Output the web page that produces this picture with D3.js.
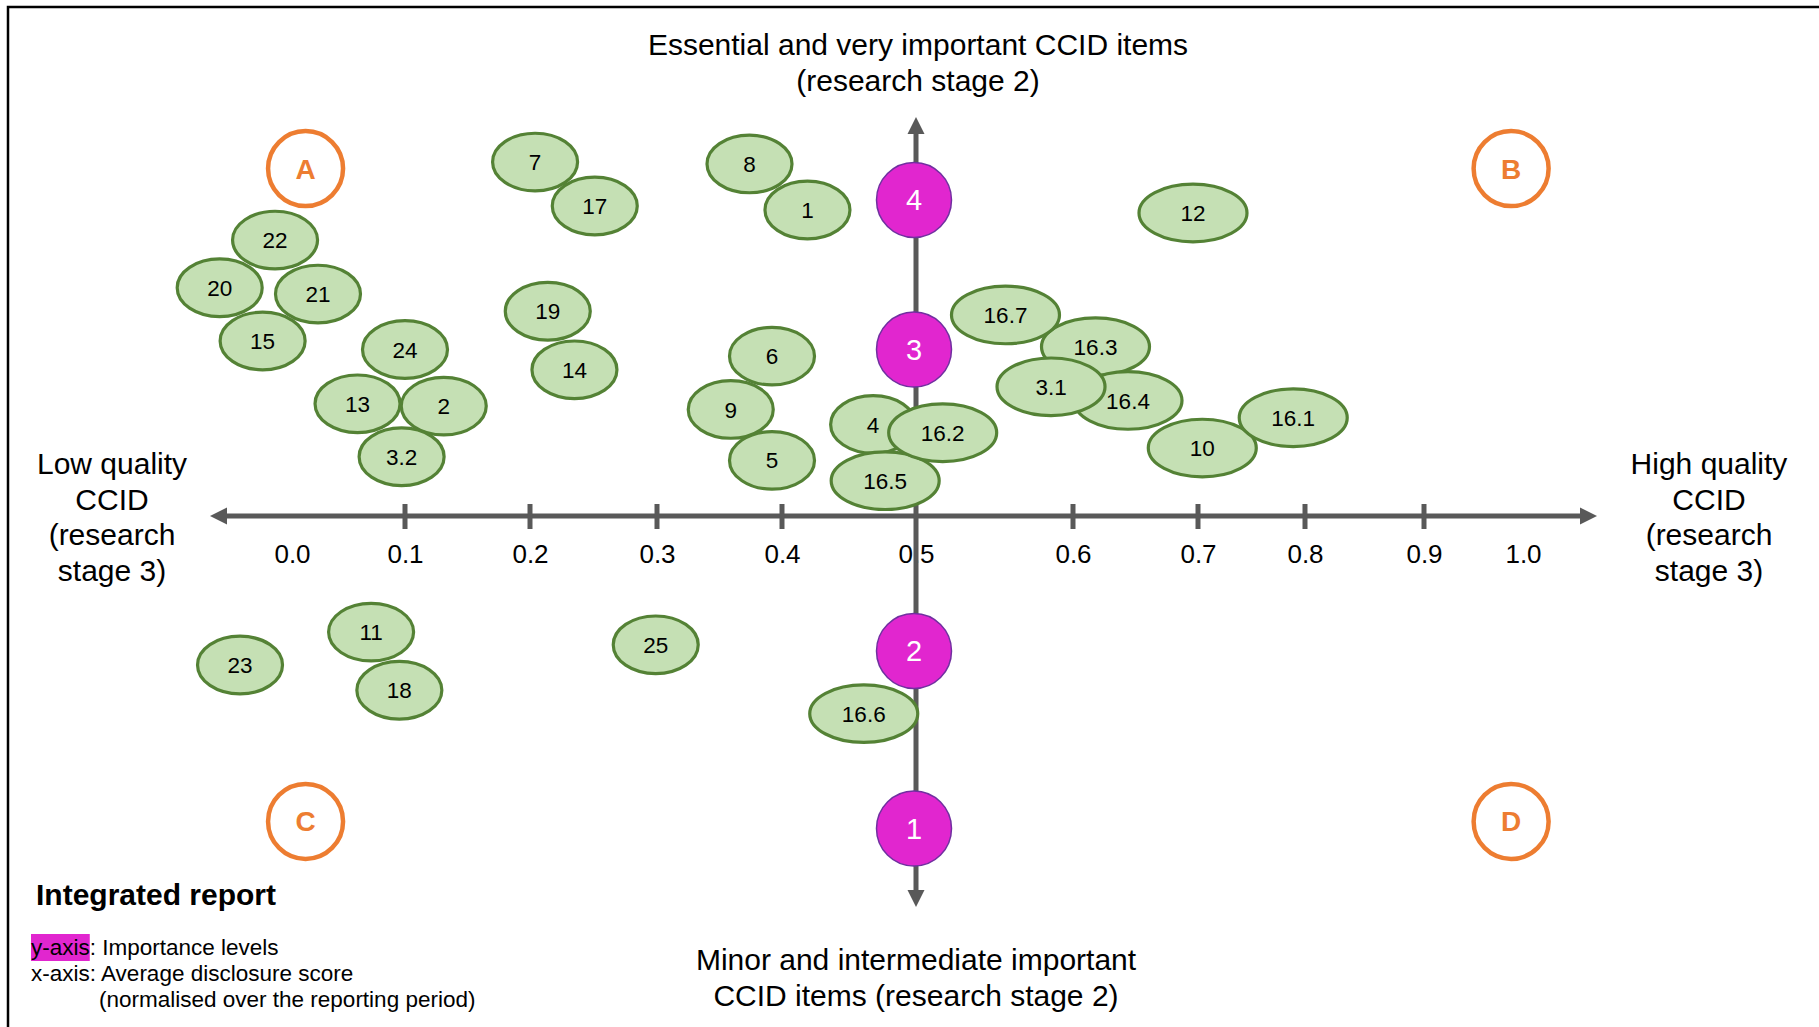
<!DOCTYPE html>
<html><head><meta charset="utf-8">
<script src="https://cdn.jsdelivr.net/npm/d3@7"></script>
<style>
html,body{margin:0;padding:0;background:#fff;overflow:hidden;}
svg{display:block;font-family:"Liberation Sans",Arial,Helvetica,sans-serif;}
</style></head><body>
<svg id="chart" width="1819" height="1027"></svg>
<script>
// ---------------- data ----------------
const itemLabels = ["7","17","8","1","20","22","21","15","19","14","24","13","2","3.2","6","9","5","4","16.5","16.2","12","16.3","16.7","16.4","3.1","10","16.1","23","11","18","25","16.6"];
// average disclosure score (normalised) - x
const itemScores = [0.204,0.251,0.374,0.419,-0.064,-0.015,0.023,-0.026,0.214,0.235,0.100,0.058,0.131,0.097,0.392,0.359,0.392,0.468,0.477,0.517,0.696,0.618,0.557,0.644,0.586,0.704,0.789,-0.046,0.070,0.095,0.299,0.461];
// importance level - y
const itemLevels = [4.254,3.960,4.241,3.933,3.413,3.732,3.371,3.057,3.256,2.939,3.000,2.837,2.830,2.678,2.980,2.820,2.667,2.775,2.606,2.750,3.913,3.019,3.231,2.847,2.888,2.704,2.795,1.921,2.070,1.779,2.023,1.647];

const levelValues = [1, 2, 3, 4];
const xTickValues = [0.0,0.1,0.2,0.3,0.4,0.5,0.6,0.7,0.8,0.9,1.0];
const xTickLabels = ["0.0","0.1","0.2","0.3","0.4","0.5","0.6","0.7","0.8","0.9","1.0"];
const xTickMarks  = [0.1,0.2,0.3,0.4,0.6,0.7,0.8,0.9];

const quadrantLabels = ["A","B","C","D"];
const quadrantScores = [0.012,0.988,0.012,0.988];
const quadrantLevels = [4.21,4.21,1.04,1.04];

const topTitle    = ["Essential and very important CCID items","(research stage 2)"];
const bottomTitle = ["Minor and intermediate important","CCID items (research stage 2)"];
const leftTitle   = ["Low quality","CCID","(research","stage 3)"];
const rightTitle  = ["High quality","CCID","(research","stage 3)"];
const reportTitle = "Integrated report";
const legendY = ["y-axis", ": Importance levels"];
const legendX = ["x-axis: Average disclosure score", "(normalised over the reporting period)"];

// ---------------- layout ----------------
const svg = d3.select("#chart");
// hand-drawn diagram: piecewise-linear scales
const x = d3.scaleLinear()
  .domain(xTickValues)
  .range([292,405,530,657,782,916,1073,1198,1305,1424,1523]);
const y = d3.scaleLinear()
  .domain([1,2,2.5,3,4])
  .range([828.5,651,516,349.5,200]);

const axisColor = "#595959";
const font = '"Liberation Sans",Arial,Helvetica,sans-serif';
const x0 = x(0.5), y0 = y(2.5);

// frame
svg.append("rect").attr("x",8).attr("y",7).attr("width",1900).attr("height",1100)
  .attr("fill","none").attr("stroke","#000").attr("stroke-width",2.5);

// tick labels (via d3 axis)
const xAxis = d3.axisBottom(x).tickValues(xTickValues)
  .tickFormat((d,i)=>xTickLabels[i]).tickSize(0).tickPadding(28.5);
const gx = svg.append("g").attr("transform",`translate(0,${y0})`).call(xAxis);
gx.select(".domain").remove();
gx.selectAll("text").attr("font-size",26).attr("font-family",font).attr("fill","#000");

// axis lines
svg.append("line").attr("x1",225).attr("x2",1582).attr("y1",y0).attr("y2",y0)
  .attr("stroke",axisColor).attr("stroke-width",5);
svg.append("line").attr("x1",x0).attr("x2",x0).attr("y1",132).attr("y2",892)
  .attr("stroke",axisColor).attr("stroke-width",5);
const ah = 17, aw = 8.5;
const arrows = [
  [[210,y0],[210+ah,y0-aw],[210+ah,y0+aw]],
  [[1597,y0],[1597-ah,y0-aw],[1597-ah,y0+aw]],
  [[x0,117],[x0-aw,117+ah],[x0+aw,117+ah]],
  [[x0,907],[x0-aw,907-ah],[x0+aw,907-ah]]
];
svg.selectAll("path.arrow").data(arrows).join("path").attr("class","arrow")
  .attr("d",d=>"M"+d.join("L")+"Z").attr("fill",axisColor);

// tick marks
svg.selectAll("line.tick").data(xTickMarks).join("line").attr("class","tick")
  .attr("x1",d=>x(d)).attr("x2",d=>x(d)).attr("y1",y0-12).attr("y2",y0+13)
  .attr("stroke",axisColor).attr("stroke-width",5);

// items
const wide = new Set(["12","10","3.1","16.1","16.2","16.3","16.4","16.5","16.6","16.7"]);
const items = itemLabels.map((l,i)=>({label:l, s:itemScores[i], v:itemLevels[i]}));
const gi = svg.selectAll("g.item").data(items).join("g").attr("class","item")
  .attr("transform",d=>`translate(${x(d.s)},${y(d.v)})`);
gi.append("ellipse").attr("rx",d=>wide.has(d.label)?54:42.5).attr("ry",28.8)
  .attr("fill","#C5E0B4").attr("stroke","#548235").attr("stroke-width",3.2);
gi.append("text").attr("text-anchor","middle").attr("dy","0.36em")
  .attr("font-size",22.5).attr("fill","#000").text(d=>d.label);

// importance levels
const gl = svg.selectAll("g.level").data(levelValues).join("g").attr("class","level")
  .attr("transform",d=>`translate(${x0-2},${y(d)})`);
gl.append("circle").attr("r",37.5).attr("fill","#E126CF").attr("stroke","#7030A0").attr("stroke-width",1.5);
gl.append("text").attr("text-anchor","middle").attr("dy","0.36em")
  .attr("font-size",29).attr("fill","#fff").text(d=>d);

// quadrant markers
const quads = quadrantLabels.map((l,i)=>({l, s:quadrantScores[i], v:quadrantLevels[i]}));
const gq = svg.selectAll("g.quad").data(quads).join("g").attr("class","quad")
  .attr("transform",d=>`translate(${x(d.s)},${y(d.v)})`);
gq.append("circle").attr("r",37.5).attr("fill","#fff").attr("stroke","#ED7D31").attr("stroke-width",4.5);
gq.append("text").attr("text-anchor","middle").attr("dy","0.36em")
  .attr("font-size",28).attr("font-weight","bold").attr("fill","#ED7D31").text(d=>d.l);

// titles
function block(lines, cx, y1, step, size){
  svg.append("g").selectAll("text").data(lines).join("text")
    .attr("x",cx).attr("y",(d,i)=>y1+i*step).attr("text-anchor","middle")
    .attr("font-size",size).attr("fill","#000").text(d=>d);
}
block(topTitle, 918, 55, 36, 30);
block(bottomTitle, 916, 970, 36, 30);
block(leftTitle, 112, 474, 35.5, 30);
block(rightTitle, 1709, 474, 35.5, 30);

svg.append("text").attr("x",36).attr("y",905).attr("font-size",30).attr("font-weight","bold")
  .attr("fill","#000").text(reportTitle);

// legend
const hl = svg.append("rect").attr("fill","#E126CF");
const ty = svg.append("text").attr("x",31).attr("y",955).attr("font-size",22.5).attr("fill","#000");
const t1 = ty.append("tspan").text(legendY[0]);
ty.append("tspan").text(legendY[1]);
const w1 = t1.node().getComputedTextLength();
hl.attr("x",31).attr("y",934).attr("width",w1).attr("height",27);
svg.append("text").attr("x",31).attr("y",981).attr("font-size",22.5).attr("fill","#000").text(legendX[0]);
svg.append("text").attr("x",99).attr("y",1007).attr("font-size",22.5).attr("fill","#000").text(legendX[1]);
</script>
</body></html>
